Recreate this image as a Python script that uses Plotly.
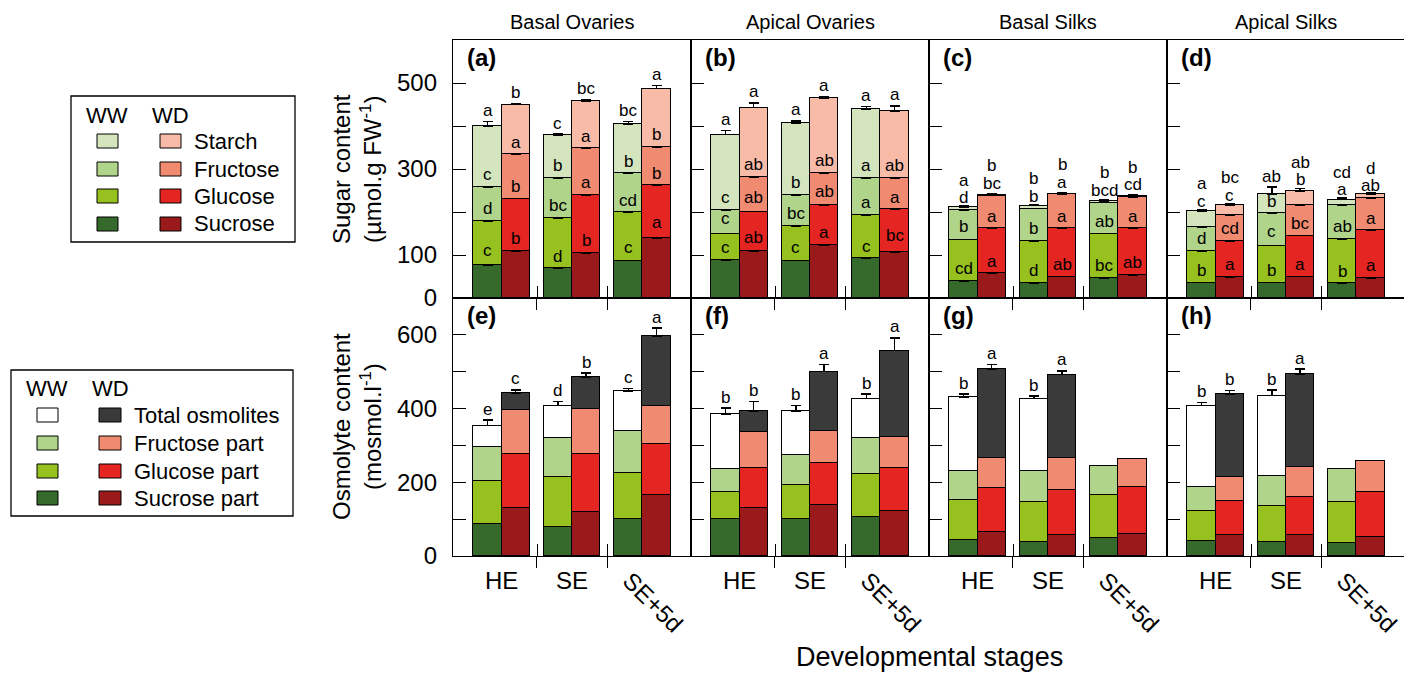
import plotly.graph_objects as go
from plotly.subplots import make_subplots

# ---------------- data ----------------
stages = ["HE", "SE", "SE+5d"]
tissues = ["Basal Ovaries", "Apical Ovaries", "Basal Silks", "Apical Silks"]
sugar_labels = ["Starch", "Fructose", "Glucose", "Sucrose"]
osmo_labels = ["Total osmolites", "Fructose part", "Glucose part", "Sucrose part"]

# Sugar content (µmol.g FW-1): per panel/condition -> [sucrose, glucose, fructose, starch], each over stages
a_ww = [[76, 69, 87], [103, 117, 112], [79, 93, 91], [142, 99, 114]]
a_wd = [[109, 104, 140], [122, 135, 122], [103, 109, 89], [116, 110, 136]]
b_ww = [[88, 87, 92], [62, 81, 101], [55, 71, 86], [175, 168, 161]]
b_wd = [[109, 123, 107], [92, 93, 99], [80, 75, 73], [162, 173, 155]]
c_ww = [[40, 35, 46], [96, 97, 104], [68, 76, 72], [7, 7, 3]]
c_wd = [[57, 50, 53], [105, 112, 109], [76, 79, 73], [2, 2, 2]]
d_ww = [[36, 36, 34], [73, 86, 103], [56, 75, 79], [37, 45, 13]]
d_wd = [[49, 50, 47], [83, 95, 110], [61, 71, 76], [23, 32, 9]]

a_ww_err = [[9, 3, 6], [3, 3, 3], [3, 3, 3], [11, 3, 6]]
a_wd_err = [[3, 3, 10], [3, 3, 3], [3, 3, 3], [2, 3, 7]]
b_ww_err = [[3, 4, 3], [9, 4, 3], [3, 3, 3], [10, 5, 5]]
b_wd_err = [[6, 3, 12], [6, 5, 3], [5, 4, 3], [11, 5, 13]]
c_ww_err = [[3, 3, 3], [5, 3, 3], [3, 3, 3], [3, 2, 3]]
c_wd_err = [[3, 3, 3], [3, 3, 3], [3, 3, 3], [2, 2, 2]]
d_ww_err = [[3, 3, 3], [3, 7, 3], [3, 3, 3], [3, 16, 3]]
d_wd_err = [[3, 3, 3], [3, 3, 3], [3, 3, 3], [3, 7, 3]]

a_ww_let = [["c", "d", "c"], ["d", "bc", "cd"], ["c", "b", "b"], ["a", "c", "bc"]]
a_wd_let = [["b", "b", "a"], ["b", "a", "b"], ["a", "a", "b"], ["b", "bc", "a"]]
b_ww_let = [["c", "c", "c"], ["c", "bc", "a"], ["c", "b", "a"], ["a", "a", "a"]]
b_wd_let = [["ab", "a", "bc"], ["ab", "ab", "a"], ["ab", "ab", "ab"], ["a", "a", "a"]]
c_ww_let = [["cd", "d", "bc"], ["b", "b", "ab"], ["d", "b", "bcd"], ["a", "b", "b"]]
c_wd_let = [["a", "ab", "ab"], ["a", "a", "a"], ["bc", "a", "cd"], ["b", "b", "b"]]
d_ww_let = [["b", "b", "b"], ["d", "c", "ab"], ["c", "b", "a"], ["a", "ab", "cd"]]
d_wd_let = [["a", "a", "a"], ["cd", "bc", "a"], ["c", "b", "ab"], ["bc", "ab", "d"]]

# Osmolyte content (mosmol.l-1): [sucrose part, glucose part, fructose part] + total osmolites
e_ww = [[87, 80, 100], [116, 135, 126], [92, 104, 113]]
e_wd = [[129, 120, 166], [147, 156, 137], [120, 124, 105]]
f_ww = [[100, 100, 107], [73, 93, 116], [62, 80, 96]]
f_wd = [[130, 138, 122], [108, 113, 116], [98, 88, 84]]
g_ww = [[43, 37, 48], [109, 109, 118], [79, 85, 77]]
g_wd = [[64, 57, 61], [120, 122, 125], [81, 86, 77]]
h_ww = [[41, 37, 34], [81, 98, 112], [64, 81, 89]]
h_wd = [[57, 57, 52], [92, 104, 121], [66, 80, 86]]

e_ww_total = [354, 408, 447]
e_wd_total = [442, 486, 597]
f_ww_total = [385, 393, 427]
f_wd_total = [393, 500, 557]
g_ww_total = [431, 427, None]
g_wd_total = [508, 492, None]
h_ww_total = [408, 435, None]
h_wd_total = [439, 493, None]

e_ww_total_err = [15, 11, 7]
e_wd_total_err = [9, 10, 21]
f_ww_total_err = [16, 15, 12]
f_wd_total_err = [26, 20, 35]
g_ww_total_err = [8, 7, 0]
g_wd_total_err = [11, 10, 0]
h_ww_total_err = [9, 15, 0]
h_wd_total_err = [10, 14, 0]

e_ww_let = ["e", "d", "c"]
e_wd_let = ["c", "b", "a"]
f_ww_let = ["b", "b", "b"]
f_wd_let = ["b", "a", "a"]
g_ww_let = ["b", "b", ""]
g_wd_let = ["a", "a", ""]
h_ww_let = ["b", "b", ""]
h_wd_let = ["b", "a", ""]

# ---------------- styling ----------------
FONT = "Liberation Sans, Arial, sans-serif"
ww_colors = ["#356a2c", "#97c11f", "#b1d48b", "#d4e5bd"]   # sucrose, glucose, fructose, starch
wd_colors = ["#9a1a1b", "#e42521", "#f08a70", "#f8bba8"]
ww_total_color = "#ffffff"
wd_total_color = "#3a3a3a"

OFF = 8  # page body margin
PAGE_L, PAGE_R, PAGE_T, PAGE_B = 453, 1405, 40, 556   # plot area in page pixels
W, H = 1412 - OFF, 677 - OFF
L, T = PAGE_L - OFF, PAGE_T - OFF
R = W - (PAGE_R - OFF)
B = H - (PAGE_B - OFF)
PW, PH = W - L - R, H - T - B


def px(xp):
    return (xp - PAGE_L) / PW


def py(yp):
    return (PAGE_B - yp) / PH


fig = make_subplots(rows=2, cols=4, horizontal_spacing=0, vertical_spacing=0)
annotations = []
shapes = []
offsets = {"WW": -0.2, "WD": 0.2}
TOP_MAX, BOT_MAX = 600, 700
ppu_top = (PH / 2) / TOP_MAX
ppu_bot = (PH / 2) / BOT_MAX


def refs(row, col):
    n = (row - 1) * 4 + col
    return ("x" if n == 1 else f"x{n}"), ("y" if n == 1 else f"y{n}")


def add_stack(row, col, cond, segs, errs, colors, lets, ppu):
    xr, yr = refs(row, col)
    n = len(stages)
    x = [i + offsets[cond] for i in range(n)]
    # cumulative tops (with error) of every segment, for label placement
    tops = []
    run = [0.0] * n
    for k, vals in enumerate(segs):
        row_tops = []
        for i in range(n):
            if vals[i] is None:
                row_tops.append(None)
            else:
                run[i] += vals[i]
                row_tops.append(run[i] + errs[k][i])
        tops.append(row_tops)
    prev = [-1e9] * n
    for k, vals in enumerate(segs):
        er = errs[k]
        has_err = any(e for e in er)
        fig.add_trace(go.Bar(
            x=x, y=vals, width=0.4,
            marker=dict(color=colors[k], line=dict(color="black", width=1.3)),
            error_y=dict(type="data", symmetric=False, array=er, arrayminus=[0] * len(er),
                         color="black", thickness=1.5, width=5, visible=has_err),
            showlegend=False, hoverinfo="skip"), row=row, col=col)
        for i in range(n):
            if vals[i] is None:
                continue
            t = lets[k][i]
            if not t:
                continue
            ypx = max(tops[k][i] * ppu + 11, prev[i] + 17.5)
            if k + 1 < len(segs) and tops[k + 1][i] is not None:
                line = tops[k + 1][i] * ppu
                if abs(ypx - line) < 7:
                    ypx = line + 8.5
            prev[i] = ypx
            annotations.append(dict(x=x[i], y=ypx / ppu, xref=xr, yref=yr, text=t,
                                    showarrow=False, yanchor="middle", xanchor="center",
                                    font=dict(size=17, color="black", family=FONT)))


top_sets = [
    (a_ww, a_ww_err, a_ww_let, a_wd, a_wd_err, a_wd_let),
    (b_ww, b_ww_err, b_ww_let, b_wd, b_wd_err, b_wd_let),
    (c_ww, c_ww_err, c_ww_let, c_wd, c_wd_err, c_wd_let),
    (d_ww, d_ww_err, d_ww_let, d_wd, d_wd_err, d_wd_let),
]
for col, (ww, wwe, wwl, wd, wde, wdl) in enumerate(top_sets, start=1):
    add_stack(1, col, "WW", ww, wwe, ww_colors, wwl, ppu_top)
    add_stack(1, col, "WD", wd, wde, wd_colors, wdl, ppu_top)


def osmo_segments(parts, total):
    rest = []
    for i in range(len(total)):
        if total[i] is None:
            rest.append(None)
        else:
            rest.append(total[i] - sum(p[i] for p in parts))
    return parts + [rest]


bot_sets = [
    (e_ww, e_ww_total, e_ww_total_err, e_ww_let, e_wd, e_wd_total, e_wd_total_err, e_wd_let),
    (f_ww, f_ww_total, f_ww_total_err, f_ww_let, f_wd, f_wd_total, f_wd_total_err, f_wd_let),
    (g_ww, g_ww_total, g_ww_total_err, g_ww_let, g_wd, g_wd_total, g_wd_total_err, g_wd_let),
    (h_ww, h_ww_total, h_ww_total_err, h_ww_let, h_wd, h_wd_total, h_wd_total_err, h_wd_let),
]
zeros = [0, 0, 0]
blank = ["", "", ""]
for col, (ww, wwt, wwte, wwl, wd, wdt, wdte, wdl) in enumerate(bot_sets, start=1):
    add_stack(2, col, "WW", osmo_segments(ww, wwt), [zeros, zeros, zeros, wwte],
              ww_colors[:3] + [ww_total_color], [blank, blank, blank, wwl], ppu_bot)
    add_stack(2, col, "WD", osmo_segments(wd, wdt), [zeros, zeros, zeros, wdte],
              wd_colors[:3] + [wd_total_color], [blank, blank, blank, wdl], ppu_bot)

# ---------------- axes ----------------
for r in (1, 2):
    for c in (1, 2, 3, 4):
        fig.update_xaxes(range=[-0.69, 2.69], tickmode="array", tickvals=[0.5, 1.5],
                         ticks="outside", ticklen=11, tickwidth=1.3, tickcolor="black",
                         showticklabels=False, showline=True, linecolor="black", linewidth=1.3,
                         mirror=True, showgrid=False, zeroline=False,
                         minor=dict(tickmode="array", tickvals=[0.503, 1.503], ticks="inside",
                                    ticklen=12, tickwidth=1.3, tickcolor="black"),
                         row=r, col=c)
        if r == 1:
            tv = [0, 100, 200, 300, 400, 500]
            tt = ["0", "100", " ", "300", " ", "500"]
            rng = [0, TOP_MAX]
        else:
            tv = [0, 100, 200, 300, 400, 500, 600]
            tt = ["0", " ", "200", " ", "400", " ", "600"]
            rng = [0, BOT_MAX]
        fig.update_yaxes(range=rng, tickmode="array", tickvals=tv, ticktext=tt,
                         ticks="inside", ticklen=13, tickwidth=1.3, tickcolor="black",
                         showticklabels=(c == 1), tickfont=dict(size=24, color="black", family=FONT),
                         ticklabelstandoff=10,
                         showline=True, linecolor="black", linewidth=1.3, mirror=True,
                         showgrid=False, zeroline=False, row=r, col=c)

# ---------------- texts ----------------
panel_letters = ["(a)", "(b)", "(c)", "(d)", "(e)", "(f)", "(g)", "(h)"]
for idx, lab in enumerate(panel_letters):
    row = idx // 4 + 1
    col = idx % 4 + 1
    xr, yr = refs(row, col)
    annotations.append(dict(x=0, y=1, xref=f"{xr} domain", yref=f"{yr} domain", text=f"<b>{lab}</b>",
                            showarrow=False, xanchor="left", yanchor="top", xshift=12, yshift=-2,
                            font=dict(size=24, color="black", family=FONT)))

for col, name in enumerate(tissues, start=1):
    xr, yr = refs(1, col)
    annotations.append(dict(x=0.5, y=1, xref=f"{xr} domain", yref="paper", text=name,
                            showarrow=False, xanchor="center", yanchor="middle", yshift=18,
                            font=dict(size=20, color="black", family=FONT)))

for col in range(1, 5):
    xr, yr = refs(2, col)
    for i, s in enumerate(stages):
        if s == "SE+5d":
            annotations.append(dict(x=i, y=0, xref=xr, yref="paper", text=s, showarrow=False,
                                    textangle=45, xanchor="center", yanchor="middle",
                                    xshift=11, yshift=-46,
                                    font=dict(size=24, color="black", family=FONT)))
        else:
            annotations.append(dict(x=i, y=0, xref=xr, yref="paper", text=s, showarrow=False,
                                    xanchor="center", yanchor="middle", yshift=-24,
                                    font=dict(size=24, color="black", family=FONT)))

annotations.append(dict(x=0.5, y=py(657), xref="paper", yref="paper", text="Developmental stages",
                        showarrow=False, xanchor="center", yanchor="middle",
                        font=dict(size=27, color="black", family=FONT)))

annotations.append(dict(x=px(357), y=0.5, xref="paper", yref="y domain",
                        text="Sugar content<br>(µmol.g FW<sup>-1</sup>)", textangle=-90,
                        showarrow=False, xanchor="center", yanchor="middle",
                        font=dict(size=24, color="black", family=FONT)))
annotations.append(dict(x=px(357), y=0.5, xref="paper", yref="y5 domain",
                        text="Osmolyte content<br>(mosmol.l<sup>-1</sup>)", textangle=-90,
                        showarrow=False, xanchor="center", yanchor="middle",
                        font=dict(size=24, color="black", family=FONT)))


# ---------------- custom legends ----------------
def legend_box(box, ww_hdr_x, wd_hdr_x, hdr_y, ww_sw, wd_sw, text_x, rows_y, wwc, wdc, labels):
    x0, y0, x1, y1 = box
    shapes.append(dict(type="rect", xref="paper", yref="paper", x0=px(x0), x1=px(x1),
                       y0=py(y1), y1=py(y0), line=dict(color="black", width=1.3),
                       fillcolor="white", layer="above"))
    for hx, ht in ((ww_hdr_x, "WW"), (wd_hdr_x, "WD")):
        annotations.append(dict(x=px(hx), y=py(hdr_y), xref="paper", yref="paper", text=ht,
                                showarrow=False, xanchor="center", yanchor="middle",
                                font=dict(size=22, color="black", family=FONT)))
    for ry, cw, cd, lab in zip(rows_y, wwc, wdc, labels):
        for (sx0, sx1), colr in ((ww_sw, cw), (wd_sw, cd)):
            shapes.append(dict(type="rect", xref="paper", yref="paper", x0=px(sx0), x1=px(sx1),
                               y0=py(ry + 7), y1=py(ry - 7), fillcolor=colr,
                               line=dict(color="black", width=1), layer="above"))
        annotations.append(dict(x=px(text_x), y=py(ry), xref="paper", yref="paper", text=lab,
                                showarrow=False, xanchor="left", yanchor="middle",
                                font=dict(size=22, color="black", family=FONT)))


legend_box((71, 96, 295, 242), 107, 170, 115, (97, 118), (160, 181), 192,
           [141, 169, 196, 224], ww_colors[::-1], wd_colors[::-1], sugar_labels)
legend_box((11, 370, 293, 516), 47, 110, 388, (37, 58), (99, 121), 132,
           [415, 443, 471, 498],
           [ww_total_color, ww_colors[2], ww_colors[1], ww_colors[0]],
           [wd_total_color, wd_colors[2], wd_colors[1], wd_colors[0]], osmo_labels)

fig.update_layout(
    width=W, height=H, margin=dict(l=L, r=R, t=T, b=B),
    barmode="stack", bargap=0, plot_bgcolor="white", paper_bgcolor="white",
    showlegend=False, annotations=annotations, shapes=shapes,
    font=dict(family=FONT, color="black"),
)

fig.write_html("out.html")
